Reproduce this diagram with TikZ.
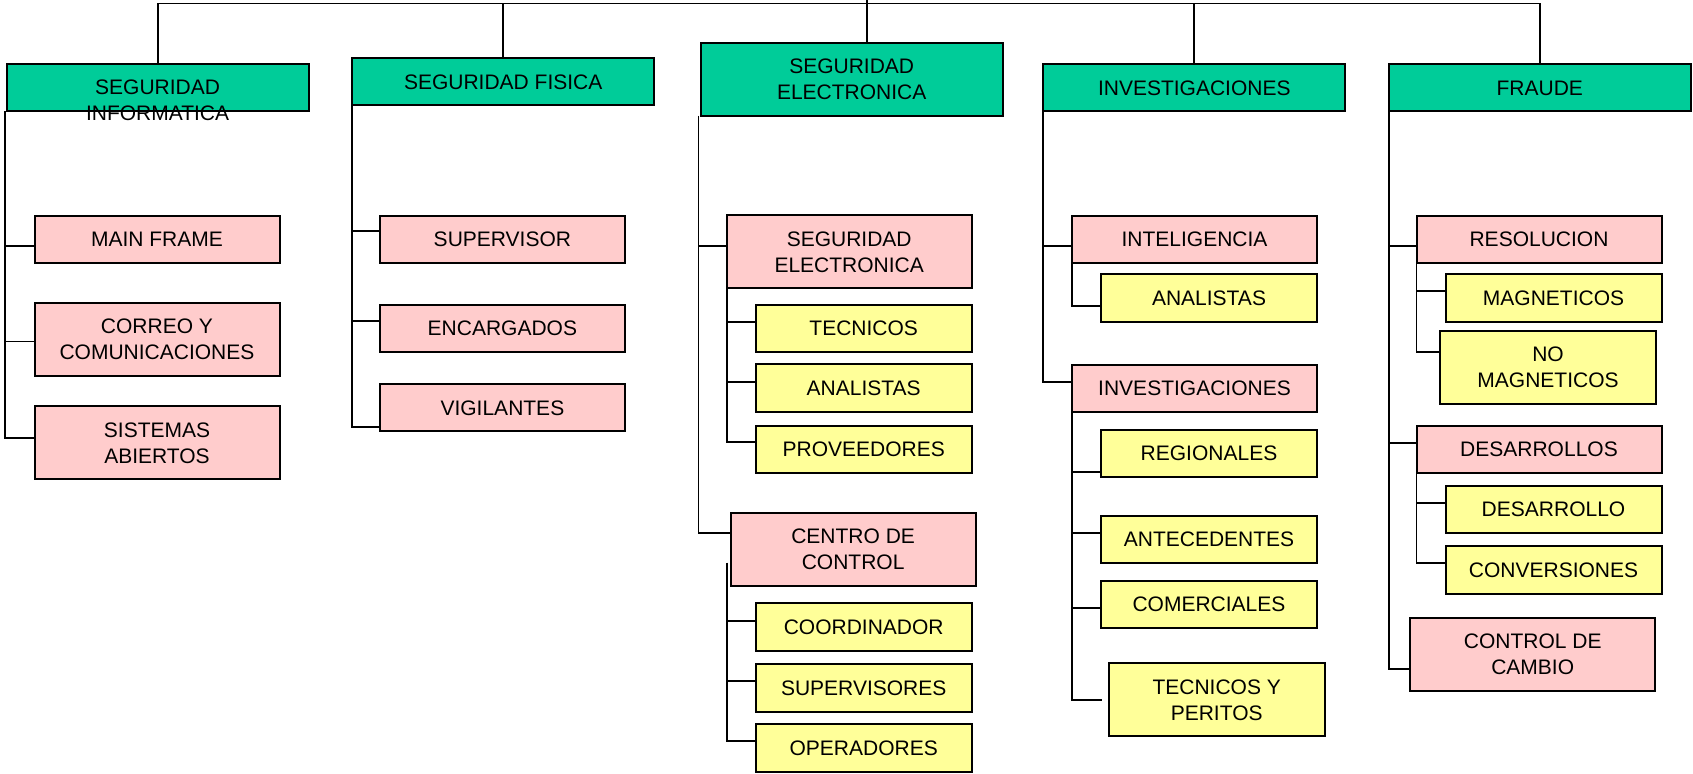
\documentclass[tikz,border=0pt]{standalone}
\usepackage{fontspec}
\setmainfont{Liberation Sans}
\definecolor{gruen}{RGB}{0,204,153}
\definecolor{rosa}{RGB}{255,204,204}
\definecolor{gelb}{RGB}{255,255,153}

\begin{document}
\begin{tikzpicture}[x=0.5pt, y=-0.5pt]
	\tikzset{
		kasten/.style = {draw, line width=1pt, inner sep=0pt, outer sep=0pt, align=center,
			font=\fontsize{10.5}{13}\selectfont},
		bereich/.style = {kasten, fill=gruen, minimum width=151pt, minimum height=23.5pt},
		abteilung/.style = {kasten, fill=rosa, minimum width=122.5pt, minimum height=23.5pt},
		gruppe/.style = {kasten, fill=gelb, minimum width=108pt, minimum height=23.75pt},
		doppelt/.style = {minimum height=36.5pt},
		beschriftung/.style = {align=center, inner sep=0pt, font=\fontsize{10.5}{13}\selectfont},
		ast/.style = {line width=0.9pt}
	}
	\useasboundingbox (0,0) rectangle (1693,774);
	
	% Bereiche
	\node[bereich] (si) at (157.6,88) {};
	\node[beschriftung] (si-text) at (157.6,100) {SEGURIDAD\\INFORMATICA};
	\node[bereich] (sf) at (503.2,82) {SEGURIDAD FISICA};
	\node[bereich, doppelt] (se) at (851.7,79.5) {SEGURIDAD\\ELECTRONICA};
	\node[bereich] (inv) at (1194.3,88) {INVESTIGACIONES};
	\node[bereich] (fr) at (1539.8,88) {FRAUDE};
	
	% Abteilungen
	\node[abteilung] (mf) at (157,239.2) {MAIN FRAME};
	\node[abteilung, doppelt] (cc) at (157,339.5) {CORREO Y\\COMUNICACIONES};
	\node[abteilung, doppelt] (sa) at (157,443) {SISTEMAS\\ABIERTOS};
	\node[abteilung] (sup) at (502.4,239.2) {SUPERVISOR};
	\node[abteilung] (enc) at (502.4,328.2) {ENCARGADOS};
	\node[abteilung] (vig) at (502.4,408) {VIGILANTES};
	\node[abteilung, doppelt] (se2) at (849.2,252) {SEGURIDAD\\ELECTRONICA};
	\node[abteilung, doppelt] (cdc) at (853.1,549.3) {CENTRO DE\\CONTROL};
	\node[abteilung] (intel) at (1194.5,239.2) {INTELIGENCIA};
	\node[abteilung] (inv2) at (1194.5,388.5) {INVESTIGACIONES};
	\node[abteilung] (res) at (1539,239.2) {RESOLUCION};
	\node[abteilung] (des) at (1539,449.3) {DESARROLLOS};
	\node[abteilung, doppelt] (cdcam) at (1532.7,654.3) {CONTROL DE\\CAMBIO};
	
	% Gruppen
	\node[gruppe] (tec) at (863.7,328.3) {TECNICOS};
	\node[gruppe] (ana1) at (863.7,388.2) {ANALISTAS};
	\node[gruppe] (prov) at (863.7,449.5) {PROVEEDORES};
	\node[gruppe] (coord) at (863.7,627.2) {COORDINADOR};
	\node[gruppe] (sups) at (863.7,687.8) {SUPERVISORES};
	\node[gruppe] (oper) at (863.7,748.2) {OPERADORES};
	\node[gruppe] (ana2) at (1209,297.8) {ANALISTAS};
	\node[gruppe] (reg) at (1209,453.3) {REGIONALES};
	\node[gruppe] (ante) at (1209,539.7) {ANTECEDENTES};
	\node[gruppe] (com) at (1209,604.7) {COMERCIALES};
	\node[gruppe, doppelt] (typ) at (1216.7,700) {TECNICOS Y\\PERITOS};
	\node[gruppe] (mag) at (1553.5,297.8) {MAGNETICOS};
	\node[gruppe, doppelt] (nomag) at (1548,367.5) {NO\\MAGNETICOS};
	\node[gruppe] (desa) at (1553.5,509.7) {DESARROLLO};
	\node[gruppe] (conv) at (1553.5,569.8) {CONVERSIONES};
	
	% Verbindungen oben
	\coordinate (wurzel) at (867,0);
	\coordinate (bus) at (867,3.5);
	\draw[ast] (si.north) |- (bus) -| (fr.north);
	\draw[ast] (sf.north) -- (sf.north |- bus);
	\draw[ast] (inv.north) -- (inv.north |- bus);
	\draw[ast] (wurzel) -- (wurzel |- se.north);
	
	% Verbindungen unten
	\coordinate (si-ast) at ([xshift=-0.75pt]si.south west);
	\draw[ast] (si-ast) |- ([yshift=-3.25pt]mf.west);
	\draw[ast] (si-ast) |- ([yshift=-1pt]cc.west);
	\draw[ast] (si-ast) |- ([yshift=2.5pt]sa.west);
	
	\draw[ast] (sf.south west) |- ([yshift=4.25pt]sup.west);
	\draw[ast] (sf.south west) |- ([yshift=3.6pt]enc.west);
	\draw[ast] (sf.south west) |- ([yshift=-9.35pt]vig.west);
	
	\coordinate (se-ast) at ([xshift=-1.1pt]se.south west);
	\draw[ast] (se-ast) |- ([yshift=3.15pt]se2.west);
	\draw[ast] (se-ast) |- ([yshift=8.3pt]cdc.west);
	\draw[ast] (se2.south west) |- ([yshift=3.3pt]tec.west);
	\draw[ast] (se2.south west) |- ([yshift=3.25pt]ana1.west);
	\draw[ast] (se2.south west) |- ([yshift=3.9pt]prov.west);
	\coordinate (cdc-ast) at ([xshift=-2pt, yshift=11.5pt]cdc.south west);
	\draw[ast] (cdc-ast) |- ([yshift=3.25pt]coord.west);
	\draw[ast] (cdc-ast) |- ([yshift=3.55pt]sups.west);
	\draw[ast] (cdc-ast) |- ([yshift=3.75pt]oper.west);
	
	\draw[ast] (inv.south west) |- ([yshift=-3.25pt]intel.west);
	\draw[ast] (inv.south west) |- ([yshift=3.4pt]inv2.west);
	\draw[ast] (intel.south west) |- ([yshift=-4.1pt]ana2.west);
	\draw[ast] (inv2.south west) |- ([yshift=-9.5pt]reg.west);
	\draw[ast] (inv2.south west) |- ([yshift=3.5pt]ante.west);
	\draw[ast] (inv2.south west) |- ([yshift=-1.8pt]com.west);
	\draw[ast] (inv2.south west) |- ([xshift=-3.5pt]typ.west);
	
	\draw[ast] (fr.south west) |- ([yshift=-3.25pt]res.west);
	\draw[ast] (fr.south west) |- ([yshift=3.3pt]des.west);
	\draw[ast] (fr.south west) |- ([yshift=-7.35pt]cdcam.west);
	\draw[ast] (res.south west) |- ([yshift=3.55pt]mag.west);
	\draw[ast] (res.south west) |- ([yshift=7.9pt]nomag.west);
	\draw[ast] (des.south west) |- ([yshift=3.5pt]desa.west);
	\draw[ast] (des.south west) |- ([yshift=3.25pt]conv.west);
\end{tikzpicture}
\end{document}
